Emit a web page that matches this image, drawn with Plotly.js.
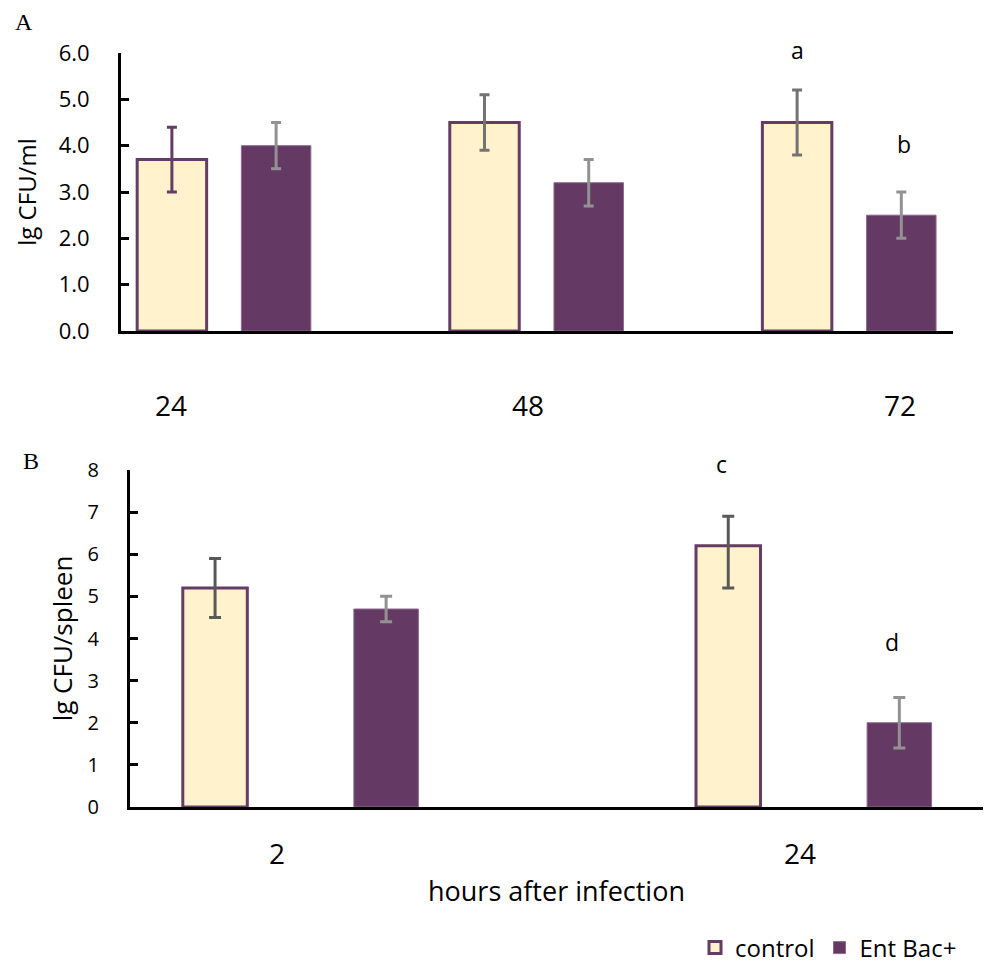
<!DOCTYPE html>
<html>
<head>
<meta charset="utf-8">
<script src="https://cdn.plot.ly/plotly-3.0.1.min.js"></script>
<style>
html,body{margin:0;padding:0;background:#fff;overflow:hidden;width:988px;height:966px;}
#chart{position:absolute;left:0;top:0;width:988px;height:966px;}
</style>
</head>
<body>
<div id="chart"></div>
<script>
// ---- data ----
const categoriesA = ['24', '48', '72'];
const controlA = [3.7, 4.5, 4.5];
const controlAErr = [0.7, 0.6, 0.7];
const entBacA = [4.0, 3.2, 2.5];
const entBacAErr = [0.5, 0.5, 0.5];
const lettersA = ['a', 'b'];

const categoriesB = ['2', '24'];
const controlB = [5.2, 6.2];
const controlBErrPlus = [0.7, 0.7];
const controlBErrMinus = [0.7, 1.0];
const entBacB = [4.7, 2.0];
const entBacBErr = [0.3, 0.6];
const lettersB = ['c', 'd'];

const seriesNames = ['control', 'Ent Bac+'];
const yTitleA = 'lg CFU/ml';
const yTitleB = 'lg CFU/spleen';
const xTitleB = 'hours after infection';
const panelLabels = ['A', 'B'];

// ---- styles ----
const ctrlFill = '#FFF2CC', ctrlLine = '#653C66';
const entFill = '#643A64', entLine = '#8A6A8A';
const FONT = 'Open Sans, Lato, sans-serif';
const px = (x) => x / 988;
const py = (y) => 1 - y / 966;

const slot = 1 / 3;
const wA = 0.2222, wB = 0.1257;

const traces = [
  {
    type: 'bar', name: seriesNames[0], x: categoriesA, y: controlA,
    xaxis: 'x', yaxis: 'y', width: wA, offset: -slot / 2 - wA / 2,
    marker: { color: ctrlFill, line: { color: ctrlLine, width: 3 } },
    error_y: { type: 'data', array: controlAErr.map((v, i) => i === 0 ? NaN : v),
      color: '#737373', thickness: 3, width: 5 },
    legendgroup: 'c', showlegend: true
  },
  {
    // purple error bar for the first control group of panel A
    type: 'bar', name: seriesNames[0], x: categoriesA, y: controlA.map((v, i) => i === 0 ? v : null),
    xaxis: 'x', yaxis: 'y', width: wA, offset: -slot / 2 - wA / 2,
    marker: { color: 'rgba(0,0,0,0)', line: { width: 0 } },
    error_y: { type: 'data', array: controlAErr.map((v, i) => i === 0 ? v : NaN),
      color: '#653C66', thickness: 3, width: 5 },
    legendgroup: 'c', showlegend: false, hoverinfo: 'skip'
  },
  {
    type: 'bar', name: seriesNames[1], x: categoriesA, y: entBacA,
    xaxis: 'x', yaxis: 'y', width: wA, offset: slot / 2 - wA / 2,
    marker: { color: entFill, line: { color: entLine, width: 1 } },
    error_y: { type: 'data', array: entBacAErr, color: '#929292', thickness: 3, width: 5 },
    legendgroup: 'e', showlegend: true
  },
  {
    type: 'bar', name: seriesNames[0], x: categoriesB, y: controlB,
    xaxis: 'x2', yaxis: 'y2', width: wB, offset: -slot / 2 - wB / 2,
    marker: { color: ctrlFill, line: { color: ctrlLine, width: 3 } },
    error_y: { type: 'data', symmetric: false, array: controlBErrPlus, arrayminus: controlBErrMinus,
      color: '#595959', thickness: 3, width: 6 },
    legendgroup: 'c', showlegend: false
  },
  {
    type: 'bar', name: seriesNames[1], x: categoriesB, y: entBacB,
    xaxis: 'x2', yaxis: 'y2', width: wB, offset: slot / 2 - wB / 2,
    marker: { color: entFill, line: { color: entLine, width: 1 } },
    error_y: { type: 'data', array: entBacBErr, color: '#929292', thickness: 3, width: 6 },
    legendgroup: 'e', showlegend: false
  }
];

const axisCommon = {
  showline: true, linecolor: '#000', linewidth: 3, showgrid: false, zeroline: false,
  fixedrange: true, automargin: false
};

const annotations = [];
function addText(text, x, y, size, family, extra) {
  annotations.push(Object.assign({
    text: text, x: px(x), y: py(y), xref: 'paper', yref: 'paper',
    showarrow: false, xanchor: 'center', yanchor: 'middle',
    font: { family: family || FONT, size: size, color: '#000' }
  }, extra || {}));
}
addText(panelLabels[0], 24, 22, 24, 'Liberation Serif, serif');
addText(panelLabels[1], 31, 461, 24, 'Liberation Serif, serif');
const catPosA = [171, 528, 900];
categoriesA.forEach((c, i) => addText(c, catPosA[i], 405, 28));
const catPosB = [277, 800];
categoriesB.forEach((c, i) => addText(c, catPosB[i], 853, 28));
addText(lettersA[0], 797, 50, 23);
addText(lettersA[1], 904, 144, 23);
addText(lettersB[0], 721, 464, 23);
addText(lettersB[1], 892, 642, 23);

const layout = {
  width: 988, height: 966, autosize: false,
  margin: { l: 0, r: 0, t: 0, b: 0, pad: 0, autoexpand: false },
  paper_bgcolor: '#fff', plot_bgcolor: 'rgba(0,0,0,0)',
  barmode: 'overlay',
  font: { family: FONT, color: '#000' },
  showlegend: true,
  legend: {
    orientation: 'h', x: px(962), xanchor: 'right', y: py(948), yanchor: 'middle',
    font: { family: FONT, size: 24, color: '#000' }, itemwidth: 30, traceorder: 'normal',
    bgcolor: 'rgba(0,0,0,0)'
  },
  xaxis: Object.assign({}, axisCommon, {
    domain: [px(121), px(953)], anchor: 'y', type: 'category',
    range: [-0.3295, 2.332], showticklabels: false, ticks: ''
  }),
  yaxis: Object.assign({}, axisCommon, {
    domain: [py(331), py(53)], anchor: 'x', range: [0, 6], dtick: 1, tick0: 0,
    tickformat: '.1f', ticks: 'inside', ticklen: 8, tickwidth: 3, tickcolor: '#000',
    ticklabelstandoff: 24,
    tickfont: { family: FONT, size: 22, color: '#000' },
    title: { text: yTitleA, standoff: 16, font: { family: FONT, size: 24, color: '#000' } }
  }),
  xaxis2: Object.assign({}, axisCommon, {
    domain: [px(130), px(983)], anchor: 'y2', type: 'category',
    range: [-0.3324, 1.3297], showticklabels: false, ticks: '',
    title: { text: xTitleB, standoff: 74, font: { family: FONT, size: 27, color: '#000' } }
  }),
  yaxis2: Object.assign({}, axisCommon, {
    domain: [py(807), py(470)], anchor: 'x2', range: [0, 8], dtick: 1, tick0: 0,
    ticks: 'inside', ticklen: 8, tickwidth: 3, tickcolor: '#000',
    ticklabelstandoff: 24,
    tickfont: { family: FONT, size: 20, color: '#000' },
    title: { text: yTitleB, standoff: 8, font: { family: FONT, size: 26, color: '#000' } }
  }),
  annotations: annotations
};

Plotly.newPlot('chart', traces, layout, { displayModeBar: false, staticPlot: true });
</script>
</body>
</html>
